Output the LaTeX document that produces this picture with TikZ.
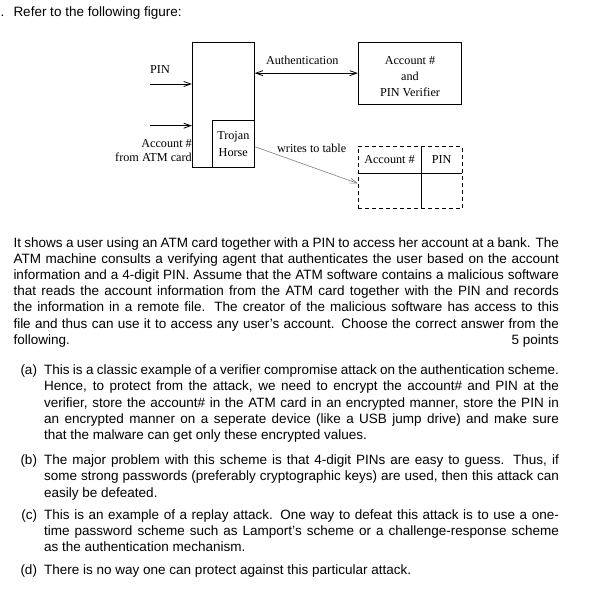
\documentclass[tikz,border=0pt]{standalone}
\usepackage{fontspec}
\setmainfont{Liberation Sans}
\newfontfamily\figfont{Liberation Serif}
\usetikzlibrary{arrows.meta,positioning,fit}
\tikzset{
  box/.style={draw, line width=0.8pt, inner sep=0pt, align=center},
  lbl/.style={font=\figfont\fontsize{12.2}{16}\selectfont, inner sep=0pt, align=center},
  arrow/.style={-{Straight Barb[length=7pt,width=5pt]}, line width=0.8pt},
  dblarrow/.style={{Straight Barb[length=7pt,width=5pt]}-{Straight Barb[length=7pt,width=5pt]}, line width=0.8pt},
  grayarrow/.style={arrow, draw=gray, line width=0.6pt},
  cell/.style={lbl, minimum height=26pt},
  para/.style={font=\fontsize{13.5}{16.2}\selectfont, inner sep=0pt, align=justify, anchor=north west},
  choicelabel/.style={font=\fontsize{13.5}{16.2}\selectfont, inner sep=0pt, anchor=north east}
}
\begin{document}
\begin{tikzpicture}[x=1pt, y=-1pt]
  \fill[white] (0,0) rectangle (593,603);
  \useasboundingbox (0,0) rectangle (593,603);

  % question heading
  \node[choicelabel, anchor=base east] (qnum) at (4.5,16) {5.};
  \node[choicelabel, anchor=base west] (qhead) at (13.3,16) {Refer to the following figure:};

  % ATM with trojan
  \node[box, minimum width=62pt, minimum height=125pt] (atm) at (223.3,104.8) {};
  \node[box, lbl, minimum width=42pt, minimum height=47.3pt, anchor=south east] (trojan) at (atm.south east) {Trojan\\[1pt]Horse};
  \node[box, minimum width=103.4pt, minimum height=61.7pt] (verifier) at (410,73.15) {};
  \node[lbl] (veriflbl) at ([yshift=-3.5pt]verifier.center) {Account \#\\and\\PIN Verifier};

  % table written by the trojan
  \node[cell, minimum width=62.4pt] (acchdr) at (389.5,159.7) {Account \#};
  \node[cell, minimum width=41pt, right=0pt of acchdr] (pinhdr) {PIN};
  \node[cell, minimum width=62.4pt, minimum height=35pt, below=0pt of acchdr] (accbody) {};
  \node[cell, minimum width=41pt, minimum height=35pt, below=0pt of pinhdr] (pinbody) {};
  \node[draw, line width=0.8pt, dash pattern=on 4pt off 3pt, inner sep=0pt, fit=(acchdr)(pinbody)] (table) {};
  \draw[line width=0.8pt] (acchdr.north east) -- (accbody.south east);
  \draw[line width=0.8pt] (acchdr.south west) -- (pinhdr.south east);

  % inputs
  \coordinate (pinsrc) at (150,84);
  \coordinate (accsrc) at (150,125.7);
  \draw[arrow] (pinsrc) -- (pinsrc -| atm.west);
  \draw[arrow] (accsrc) -- (accsrc -| atm.west);
  \node[lbl] (pinlbl) at (160,70) {PIN};
  \node[lbl, font=\figfont\fontsize{12.2}{14}\selectfont, align=right, anchor=east] (acclbl) at (192,150.3) {Account \#\\from ATM card};

  \draw[dblarrow] (verifier.west -| atm.east) -- (verifier.west);
  \node[lbl] (authlbl) at (302.3,60) {Authentication};
  \draw[grayarrow] ([yshift=-3pt]trojan.east) -- ([yshift=-6pt]table.west);
  \node[lbl] (writelbl) at (311.7,148.3) {writes to table};

  % question text
  \node[para, text width=545.4pt] (body) at (13.3,235.5) {\strut It shows a user using an ATM card together with a PIN to access her account at a bank. The\linebreak
  ATM machine consults a verifying agent that authenticates the user based on the account\linebreak
  information and a 4-digit PIN. Assume that the ATM software contains a malicious software\linebreak
  that reads the account information from the ATM card together with the PIN and records\linebreak
  the information in a remote file. The creator of the malicious software has access to this\linebreak
  file and thus can use it to access any user’s account. Choose the correct answer from the\linebreak
  following.\hfill 5 points};

  \node[para, text width=514.7pt] (itema) at (44,363.2) {\strut This is a classic example of a verifier compromise attack on the authentication scheme.\linebreak
  Hence, to protect from the attack, we need to encrypt the account\# and PIN at the\linebreak
  verifier, store the account\# in the ATM card in an encrypted manner, store the PIN in\linebreak
  an encrypted manner on a seperate device (like a USB jump drive) and make sure\linebreak
  that the malware can get only these encrypted values.};
  \node[choicelabel] (laba) at ([xshift=-6.8pt]itema.north west) {\strut(a)};

  \node[para, text width=514.7pt] (itemb) at (44,453.2) {\strut The major problem with this scheme is that 4-digit PINs are easy to guess. Thus, if\linebreak
  some strong passwords (preferably cryptographic keys) are used, then this attack can\linebreak
  easily be defeated.};
  \node[choicelabel] (labb) at ([xshift=-6.8pt]itemb.north west) {\strut(b)};

  \node[para, text width=514.7pt] (itemc) at (44,507.9) {\strut This is an example of a replay attack. One way to defeat this attack is to use a one-\linebreak
  time password scheme such as Lamport’s scheme or a challenge-response scheme\linebreak
  as the authentication mechanism.};
  \node[choicelabel] (labc) at ([xshift=-6.8pt]itemc.north west) {\strut(c)};

  \node[para, text width=514.7pt] (itemd) at (44,563.2) {\strut There is no way one can protect against this particular attack.};
  \node[choicelabel] (labd) at ([xshift=-6.8pt]itemd.north west) {\strut(d)};
\end{tikzpicture}
\end{document}
